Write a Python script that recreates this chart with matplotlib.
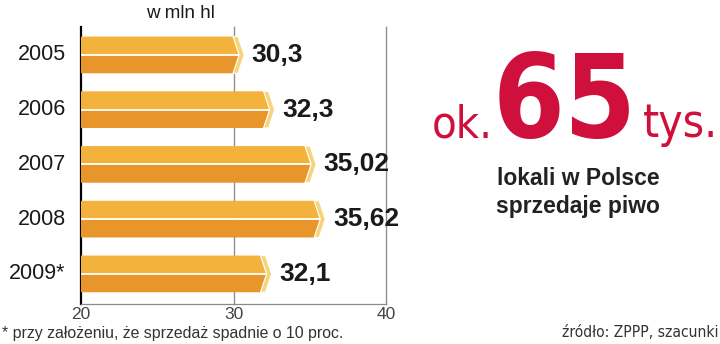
import os

import matplotlib

matplotlib.use("Agg")

import matplotlib.pyplot as plt
from matplotlib import font_manager
from matplotlib.font_manager import FontProperties
from matplotlib.patches import Polygon

years = ["2005", "2006", "2007", "2008", "2009*"]
values = [30.3, 32.3, 35.02, 35.62, 32.1]
value_labels = ["30,3", "32,3", "35,02", "35,62", "32,1"]
x_ticks = [20, 30, 40]

TOP = "#F3B23C"
BOTTOM = "#E8952B"
CAP = "#F6D47C"
RED = "#CF0F3C"
TEXT = "#1a1a1a"

SANS = ["Liberation Sans", "DejaVu Sans"]


def narrow_font(bold=False):
    # look for a condensed face among the installed fonts
    wanted = ["LiberationSansNarrow", "DejaVuSansCondensed", "RobotoCondensed",
              "NotoSans-Condensed", "OpenSans-Condensed", "OpenSansCondensed"]
    files = sorted(f.fname for f in font_manager.fontManager.ttflist)
    for key in wanted:
        for path in files:
            name = os.path.basename(path)
            if not name.startswith(key):
                continue
            is_bold = "Bold" in name
            if is_bold == bold and "Italic" not in name and "Oblique" not in name:
                return FontProperties(fname=path)
    return FontProperties(family=SANS, weight="bold" if bold else "normal")


def fit_width(text, target_px, renderer):
    width = text.get_window_extent(renderer=renderer).width
    text.set_fontsize(text.get_fontsize() * target_px / width)


fig = plt.figure(figsize=(7.2, 3.44), dpi=100)
ax = fig.add_axes([81 / 720, 40 / 344, 305 / 720, 277 / 344])

h = 0.67
base = 20
for i, v in enumerate(values):
    top_y = i - h / 2
    bot_y = i + h / 2
    left_pt = base - 0.52
    left_c = base - 0.25
    body_r = v - 0.33
    # upper (lighter) half
    ax.add_patch(Polygon([(left_pt, i), (left_c, top_y), (body_r, top_y), (v + 0.07, i)],
                         closed=True, facecolor=TOP, edgecolor="none", zorder=3))
    # lower (darker) half
    ax.add_patch(Polygon([(left_pt, i), (left_c, bot_y), (body_r, bot_y), (v + 0.07, i)],
                         closed=True, facecolor=BOTTOM, edgecolor="none", zorder=3))
    # end cap
    ax.add_patch(Polygon([(body_r, top_y), (v, top_y), (v + 0.4, i), (v, bot_y),
                          (body_r, bot_y), (v + 0.07, i)],
                         closed=True, facecolor=CAP, edgecolor="white", linewidth=0.8, zorder=4))
    ax.plot([left_pt, v + 0.07], [i, i], color="white", linewidth=1.3, zorder=5, solid_capstyle="butt")
    ax.text(v + 0.9, i, value_labels[i], ha="left", va="center", fontsize=19,
            fontweight="bold", color=TEXT, family=SANS, zorder=6)
    ax.text(-0.05, i, years[i], transform=ax.get_yaxis_transform(), ha="right", va="center",
            fontsize=15.5, color=TEXT, family=SANS)

ax.set_xlim(20, 40)
ax.set_ylim(4.55, -0.51)
ax.set_yticks([])
ax.set_xticks(x_ticks)
ax.set_xticklabels([str(t) for t in x_ticks], family=SANS, fontsize=12.5, color="#444444")
ax.tick_params(axis="x", length=0, pad=2)
for t in x_ticks[1:]:
    ax.axvline(t, color="#8f8f8f", linewidth=1.0, zorder=1, clip_on=False)
ax.spines["top"].set_visible(False)
ax.spines["right"].set_visible(False)
ax.spines["left"].set_color("black")
ax.spines["left"].set_linewidth(1.6)
ax.spines["bottom"].set_color("#8a8a8a")
ax.spines["bottom"].set_linewidth(0.9)
ax.patch.set_alpha(0)

fig.text(180 / 720, 1 - 18 / 344, "w mln hl", ha="center", va="baseline", fontsize=13.5,
         color=TEXT, family=SANS)

# right-hand callout
narrow = narrow_font()
narrow_bold = narrow_font(bold=True)
base_y = 1 - 137 / 344
t_ok = fig.text(493 / 720, base_y, "ok.", ha="right", va="baseline", fontsize=46, color=RED,
                fontproperties=narrow)
t_65 = fig.text(565 / 720, base_y, "65", ha="center", va="baseline", fontsize=92,
                color=RED, fontproperties=narrow_bold)
t_tys = fig.text(643 / 720, base_y, "tys.", ha="left", va="baseline", fontsize=46, color=RED,
                 fontproperties=narrow)
fig.text(578 / 720, 1 - 185 / 344, "lokali w Polsce", ha="center", va="baseline", fontsize=16.5,
         fontweight="bold", color="#222222", family=SANS)
fig.text(578 / 720, 1 - 213 / 344, "sprzedaje piwo", ha="center", va="baseline", fontsize=16.5,
         fontweight="bold", color="#222222", family=SANS)

fig.text(2 / 720, 1 - 338 / 344, "* przy założeniu, że sprzedaż spadnie o 10 proc.", ha="left",
         va="baseline", fontsize=11.4, color="#333333", family=SANS)
t_src = fig.text(718 / 720, 1 - 337 / 344, "źródło: ZPPP, szacunki", ha="right", va="baseline",
                 fontsize=12, color="#333333", fontproperties=narrow)

fig.canvas.draw()
renderer = fig.canvas.get_renderer()
fit_width(t_ok, 61, renderer)
fit_width(t_65, 144, renderer)
fit_width(t_tys, 75, renderer)
fit_width(t_src, 156, renderer)

fig.savefig("out.png", dpi=100, facecolor="white")
